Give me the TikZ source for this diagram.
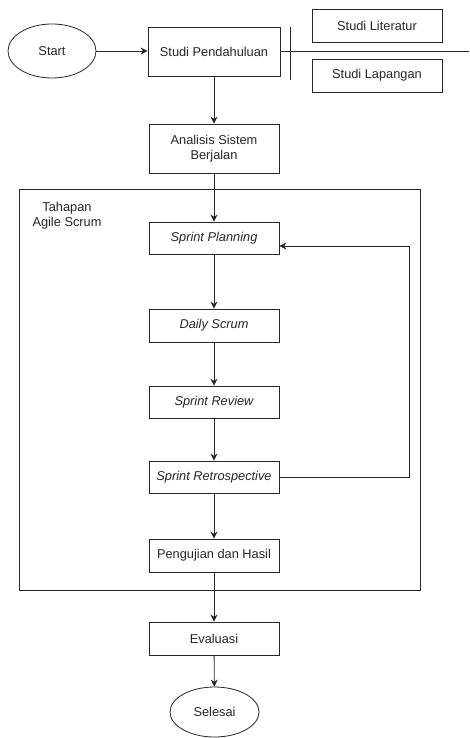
\documentclass[tikz,border=0pt]{standalone}
\usepackage{fontspec}
\setmainfont{Liberation Sans}
\usetikzlibrary{arrows.meta,shapes.geometric}
\begin{document}
\begin{tikzpicture}[x=1pt,y=-1pt,
  every node/.style={font=\fontsize{12.8}{15}\selectfont, text=black!85},
  box/.style={draw=black!85, line width=0.8pt, minimum width=130pt, align=center, inner sep=0pt},
  term/.style={draw=black!85, line width=0.8pt, ellipse, inner sep=0pt},
  conn/.style={draw=black!85, line width=0.8pt},
  arr/.style={conn, -{Stealth[length=7pt,width=7pt]}}]
\useasboundingbox (0,0) rectangle (469,738);
\node[term, minimum width=88pt, minimum height=54pt] (start) at (52,51) {Start};
\node[box, minimum width=132pt, minimum height=49pt] (sp) at (214,51.5) {Studi Pendahuluan};
\node[box, minimum height=33pt] (lit) at (377,25.5) {Studi Literatur};
\node[box, minimum height=33pt] (lap) at (377,75.5) {Studi Lapangan};
\coordinate (barT) at (290,27);
\coordinate (barB) at (290,80);
\coordinate (hEnd) at (469,51.5);
\node[box, minimum height=49pt] (an) at (214,148.5) {Analisis Sistem\\Berjalan};
\node[draw=black!85, line width=0.8pt, minimum width=401pt, minimum height=401pt, inner sep=0pt] (frame) at (219.5,389.5) {};
\node[align=center] (lbl) at (67,216) {Tahapan\\Agile Scrum};
\node[box, minimum height=32pt] (spp) at (214,238) {\itshape Sprint Planning};
\node[box, minimum height=33pt] (ds) at (214,325.5) {\itshape Daily Scrum};
\node[box, minimum height=32pt] (sr) at (214,402) {\itshape Sprint Review};
\node[box, minimum height=32pt] (sre) at (214,477) {\itshape Sprint Retrospective};
\node[box, minimum height=33pt] (ph) at (214,555.5) {Pengujian dan Hasil};
\node[box, minimum height=33pt] (ev) at (214,638.5) {Evaluasi};
\node[term, minimum width=89pt, minimum height=50pt] (sel) at (214.5,712) {Selesai};
\coordinate (loopB) at (409,246);
\draw[arr] (start.east) -- (sp.west |- start.east);
\draw[conn] (sp.east) -- (hEnd);
\draw[conn] (barT) -- (barB);
\draw[arr] (sp) -- (an);
\draw[arr] (an) -- (spp);
\draw[arr] (spp) -- (ds);
\draw[arr] (ds) -- (sr);
\draw[arr] (sr) -- (sre);
\draw[arr] (sre) -- (ph);
\draw[arr] (ph) -- (ev);
\draw[arr] (ev) -- (sel);
\draw[arr] (sre.east) -| (loopB) -- (loopB -| spp.east);
\end{tikzpicture}
\end{document}
